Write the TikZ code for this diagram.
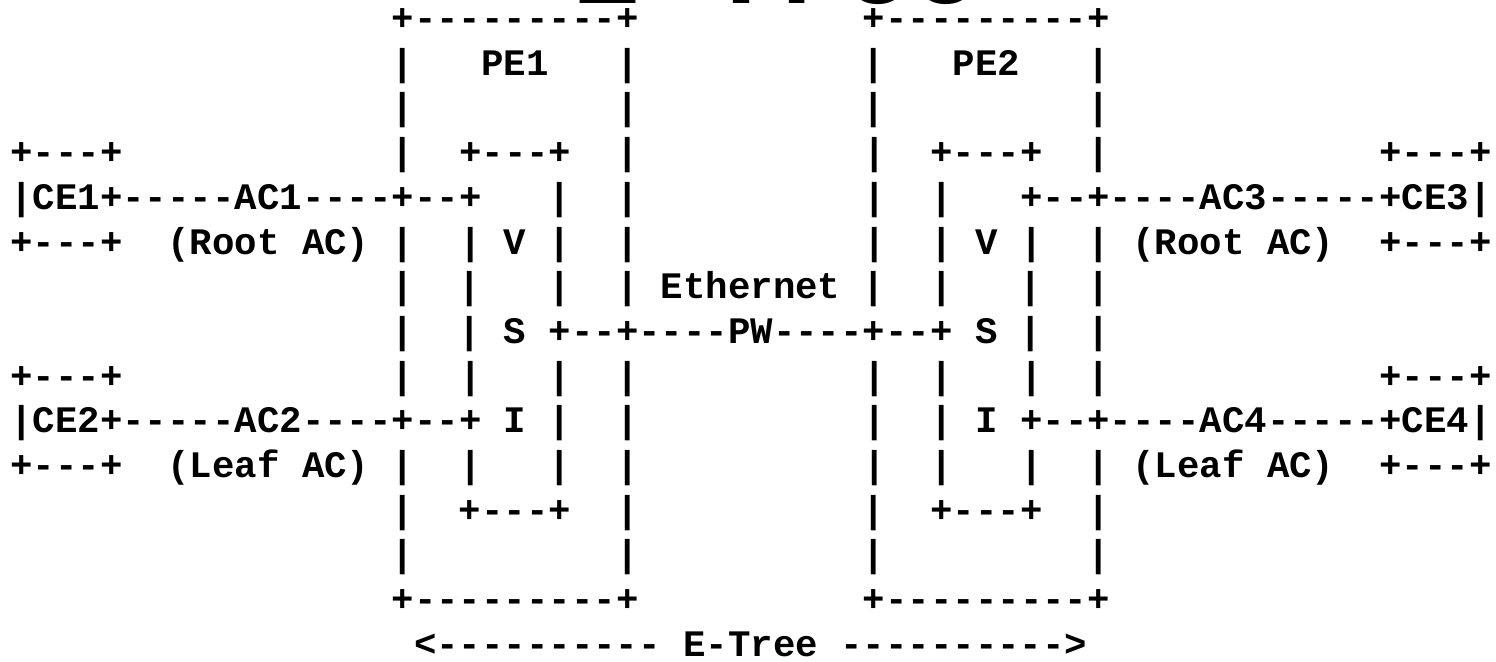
\documentclass[tikz,border=0pt]{standalone}
\usepackage{fontspec}
\setmonofont{Liberation Mono}
\begin{document}
\begin{tikzpicture}[x=0.26738pt,y=-0.26738pt,
  ascii/.style={anchor=base west,inner sep=0pt,outer sep=0pt,
    font=\ttfamily\bfseries\fontsize{10}{12}\selectfont},
  bigtitle/.style={anchor=base west,inner sep=0pt,outer sep=0pt,
    font=\ttfamily\bfseries\fontsize{30.3}{36}\selectfont}]
\useasboundingbox (0,0) rectangle (1496,661);
% column c left edge: 10.3+22.43*c ; row n baseline: 30.5+44.7*n
\node[bigtitle] (title) at (572,3) {E-Tree};
\node[ascii] (l0)  at ({10.3+22.43*17},{30.5+44.7*0})  {+---------+~~~~~~~~~~+---------+};
\node[ascii] (l1)  at ({10.3+22.43*17},{30.5+44.7*1})  {|~~~PE1~~~|~~~~~~~~~~|~~~PE2~~~|};
\node[ascii] (l2)  at ({10.3+22.43*17},{30.5+44.7*2})  {|~~~~~~~~~|~~~~~~~~~~|~~~~~~~~~|};
\node[ascii] (l3)  at ({10.3+22.43*0},{30.5+44.7*3})   {+---+~~~~~~~~~~~~|~~+---+~~|~~~~~~~~~~|~~+---+~~|~~~~~~~~~~~~+---+};
\node[ascii] (l4)  at ({10.3+22.43*0},{30.5+44.7*4})   {|CE1+-----AC1----+--+~~~|~~|~~~~~~~~~~|~~|~~~+--+----AC3-----+CE3|};
\node[ascii] (l5)  at ({10.3+22.43*0},{30.5+44.7*5})   {+---+~~(Root~AC)~|~~|~V~|~~|~~~~~~~~~~|~~|~V~|~~|~(Root~AC)~~+---+};
\node[ascii] (l6)  at ({10.3+22.43*17},{30.5+44.7*6})  {|~~|~~~|~~|~Ethernet~|~~|~~~|~~|};
\node[ascii] (l7)  at ({10.3+22.43*17},{30.5+44.7*7})  {|~~|~S~+--+----PW----+--+~S~|~~|};
\node[ascii] (l8)  at ({10.3+22.43*0},{30.5+44.7*8})   {+---+~~~~~~~~~~~~|~~|~~~|~~|~~~~~~~~~~|~~|~~~|~~|~~~~~~~~~~~~+---+};
\node[ascii] (l9)  at ({10.3+22.43*0},{30.5+44.7*9})   {|CE2+-----AC2----+--+~I~|~~|~~~~~~~~~~|~~|~I~+--+----AC4-----+CE4|};
\node[ascii] (l10) at ({10.3+22.43*0},{30.5+44.7*10})  {+---+~~(Leaf~AC)~|~~|~~~|~~|~~~~~~~~~~|~~|~~~|~~|~(Leaf~AC)~~+---+};
\node[ascii] (l11) at ({10.3+22.43*17},{30.5+44.7*11}) {|~~+---+~~|~~~~~~~~~~|~~+---+~~|};
\node[ascii] (l12) at ({10.3+22.43*17},{30.5+44.7*12}) {|~~~~~~~~~|~~~~~~~~~~|~~~~~~~~~|};
\node[ascii] (l13) at ({10.3+22.43*17},{30.5+44.7*13}) {+---------+~~~~~~~~~~+---------+};
\node[ascii] (l14) at ({10.3+22.43*18},{30.5+44.7*14}) {<----------~E-Tree~---------->};
\end{tikzpicture}
\end{document}
